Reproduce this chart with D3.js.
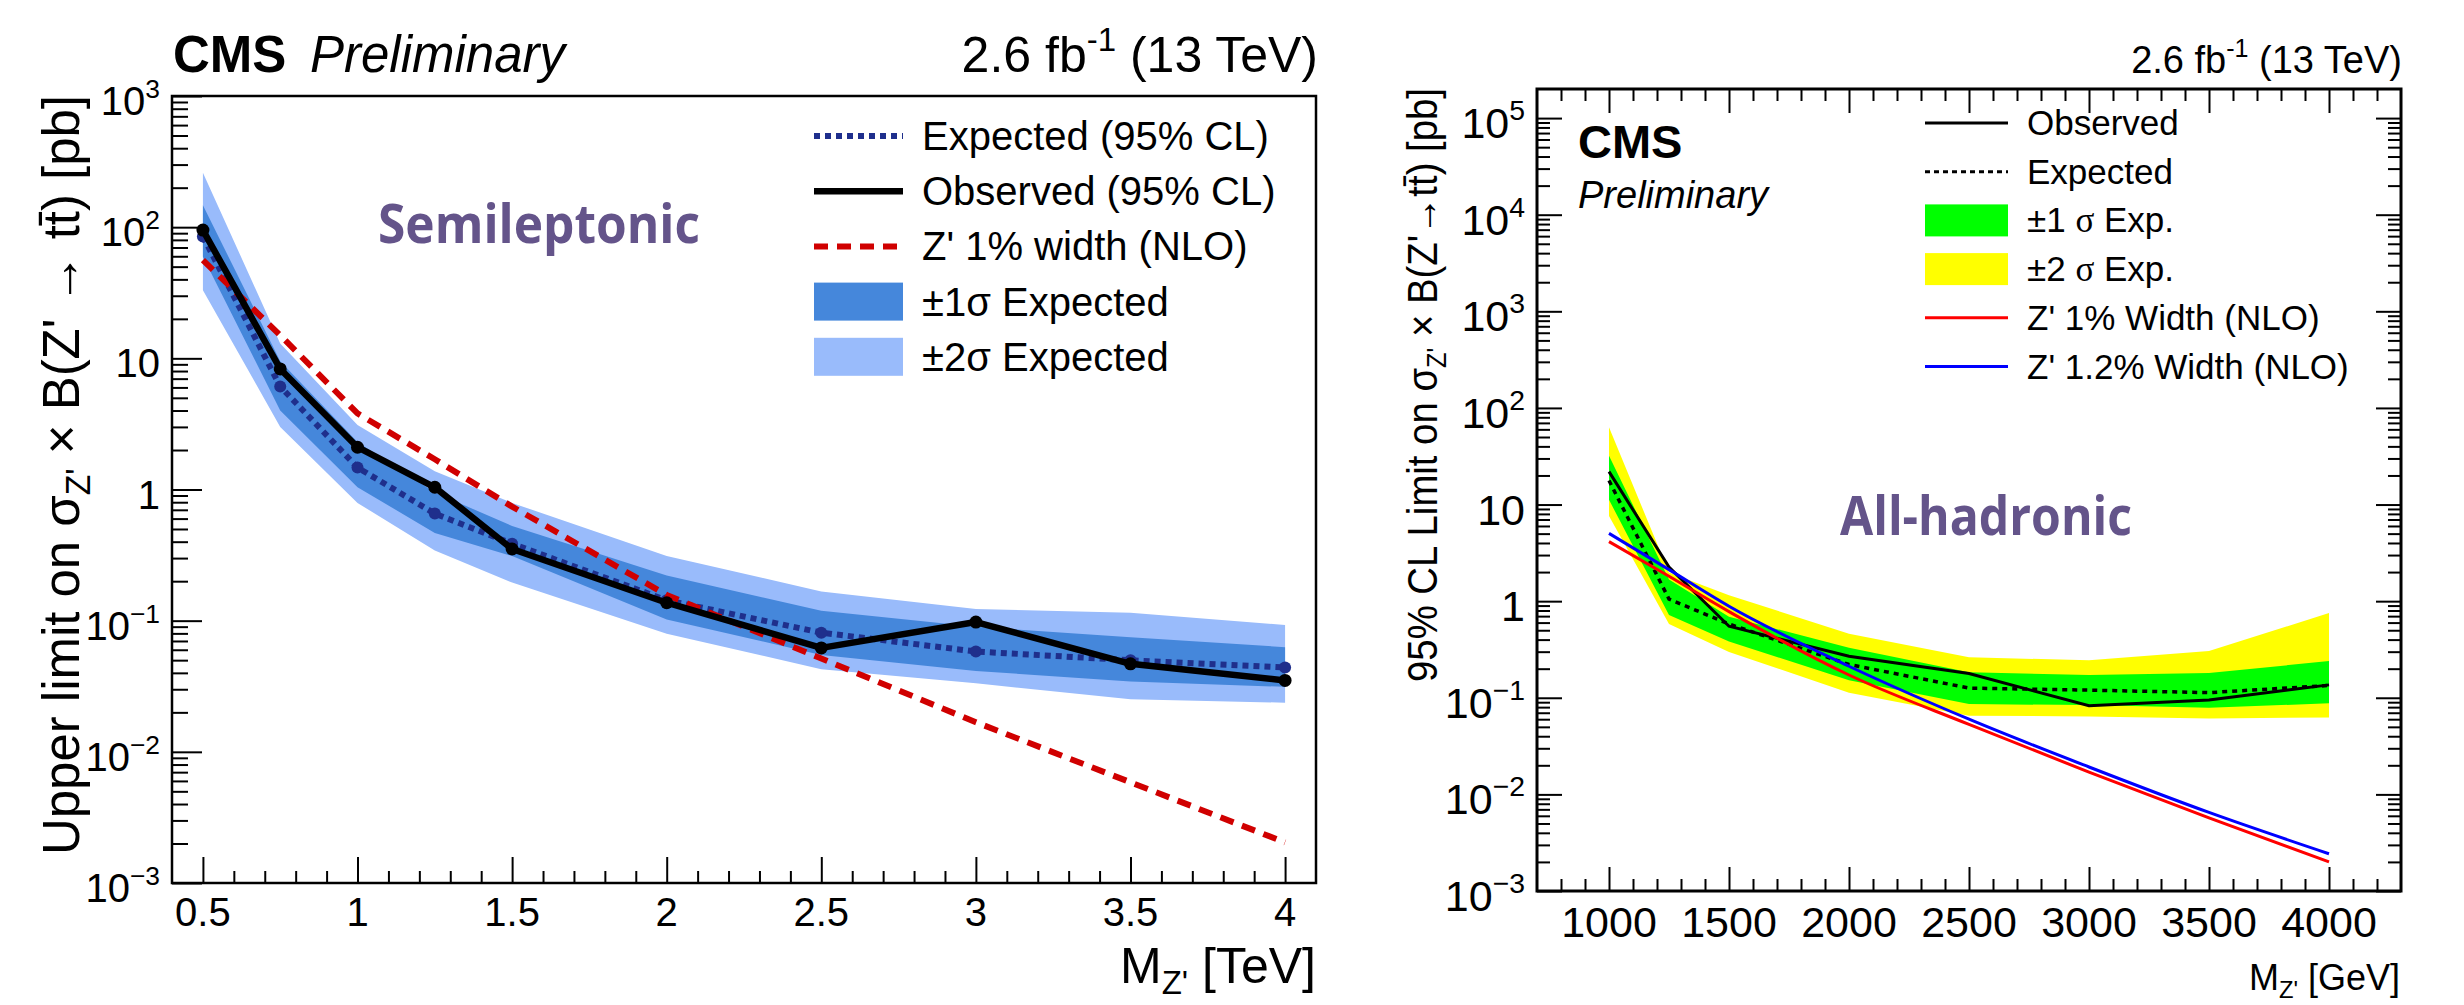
<!DOCTYPE html>
<html lang="en">
<head>
<meta charset="utf-8">
<title>Z' to ttbar limits</title>
<script src="https://d3js.org/d3.v7.min.js"></script>
<style>
  body { margin: 0; background: white; }
  text { font-family: 'Liberation Sans', Arial, sans-serif; fill: black; }
  .tag { font-family: 'Open Sans', sans-serif; font-weight: 700; fill: #64548a; }
</style>
</head>
<body>
<div id="container"></div>
<script>
// ---------------- semileptonic (left) ----------------
var slMass     = [0.5, 0.75, 1, 1.25, 1.5, 2, 2.5, 3, 3.5, 4];
var slObserved = [95, 8.3, 2.1, 1.04, 0.352, 0.137, 0.062, 0.0976, 0.0469, 0.035];
var slExpected = [85, 6.1, 1.47, 0.655, 0.386, 0.143, 0.081, 0.0582, 0.0499, 0.044];
var slExp1Up   = [147, 9.5, 2.3, 0.95, 0.527, 0.221, 0.119, 0.090, 0.0747, 0.0628];
var slExp1Dn   = [59.5, 4.0, 1.04, 0.467, 0.311, 0.102, 0.0548, 0.0414, 0.0344, 0.0313];
var slExp2Up   = [260, 13, 3.1, 1.38, 0.79, 0.311, 0.167, 0.1226, 0.115, 0.0927];
var slExp2Dn   = [33, 3.0, 0.79, 0.342, 0.195, 0.0794, 0.0427, 0.0333, 0.0252, 0.0237];
var slTheory   = [56, 15, 3.8, 1.7, 0.74, 0.157, 0.0515, 0.0168, 0.00586, 0.00204];
var slXTicks   = [0.5, 1, 1.5, 2, 2.5, 3, 3.5, 4];
var slYExp     = [-3, -2, -1, 0, 1, 2, 3];

// ---------------- all-hadronic (right) ----------------
var ahMass     = [1000, 1250, 1500, 2000, 2500, 3000, 3500, 4000];
var ahObserved = [21.9, 2.25, 0.55, 0.269, 0.178, 0.0826, 0.0946, 0.136];
var ahExpected = [17.7, 1.05, 0.58, 0.221, 0.126, 0.12, 0.113, 0.134];
var ahExp1Up   = [32, 1.68, 0.69, 0.33, 0.184, 0.172, 0.18, 0.24];
var ahExp1Dn   = [11.2, 0.72, 0.383, 0.152, 0.086, 0.084, 0.0787, 0.0877];
var ahExp2Up   = [63, 1.98, 1.15, 0.461, 0.262, 0.245, 0.305, 0.753];
var ahExp2Dn   = [7.6, 0.58, 0.298, 0.113, 0.0653, 0.064, 0.061, 0.0625];
var ahZp1      = [4.13, 1.81, 0.78, 0.172, 0.053, 0.017, 0.0057, 0.002];
var ahZp12     = [5.03, 2.12, 0.887, 0.212, 0.06, 0.0192, 0.0065, 0.00243];
var ahXTicks   = [1000, 1500, 2000, 2500, 3000, 3500, 4000];
var ahYExp     = [-3, -2, -1, 0, 1, 2, 3, 4, 5];

var W = 2464, H = 1005;
var svg = d3.select("#container").append("svg")
    .attr("width", W).attr("height", H)
    .style("background-color", "white");

// text with super/subscripts : parts = [[txt, "sup"|"sub"|null, family]]
function rich(sel, parts, fs) {
  var shift = 0;
  parts.forEach(function(p) {
    var target = p[1] === "sup" ? -0.42 * fs : p[1] === "sub" ? 0.22 * fs : 0;
    var t = sel.append("tspan").text(p[0]).attr("dy", target - shift);
    if (p[1]) t.attr("font-size", 0.66 * fs);
    if (p[2]) t.style("font-family", p[2]);
    shift = target;
  });
  return sel;
}

function powParts(e) {
  if (e === 0) return [["1"]];
  if (e === 1) return [["10"]];
  return [["10"], [e < 0 ? "\u2212" + (-e) : String(e), "sup"]];
}

function logMinors(lo, hi, max) {
  var out = [];
  for (var e = lo; e <= hi; e++)
    for (var m = 2; m <= 9; m++) if (m * Math.pow(10, e) < max) out.push(m * Math.pow(10, e));
  return out;
}

function tickAxis(g, axis, w) {
  g.call(axis);
  g.select(".domain").remove();
  g.selectAll(".tick line").attr("stroke", "black").attr("stroke-width", w);
}

// ================= LEFT PANEL =================
var xL = d3.scaleLinear().domain([0.4, 4.1]).range([172, 1316]);
var yL = d3.scaleLog().domain([1e-3, 1e3]).range([883, 96]);
var gL = svg.append("g");

svg.append("clipPath").attr("id", "clipL").append("rect")
  .attr("x", 172).attr("y", 96).attr("width", 1144).attr("height", 787);

var slIdx = d3.range(slMass.length);
var plotL = gL.append("g").attr("clip-path", "url(#clipL)");

plotL.append("path").datum(slIdx)
  .attr("fill", "#99bbfb")
  .attr("d", d3.area().x(function(i){return xL(slMass[i]);})
     .y0(function(i){return yL(slExp2Dn[i]);}).y1(function(i){return yL(slExp2Up[i]);}));
plotL.append("path").datum(slIdx)
  .attr("fill", "#4587db")
  .attr("d", d3.area().x(function(i){return xL(slMass[i]);})
     .y0(function(i){return yL(slExp1Dn[i]);}).y1(function(i){return yL(slExp1Up[i]);}));

var lineL = function(arr) {
  return d3.line().x(function(i){return xL(slMass[i]);}).y(function(i){return yL(arr[i]);});
};
plotL.append("path").datum(slIdx).attr("fill", "none")
  .attr("stroke", "#1f2f8c").attr("stroke-width", 6).attr("stroke-dasharray", "6,5")
  .attr("d", lineL(slExpected));
plotL.selectAll("circle.exp").data(slIdx).enter().append("circle")
  .attr("class", "exp").attr("r", 6).attr("fill", "#1f2f8c")
  .attr("cx", function(i){return xL(slMass[i]);}).attr("cy", function(i){return yL(slExpected[i]);});
plotL.append("path").datum(slIdx).attr("fill", "none")
  .attr("stroke", "#d00000").attr("stroke-width", 6).attr("stroke-dasharray", "14,9")
  .attr("d", lineL(slTheory));
plotL.append("path").datum(slIdx).attr("fill", "none")
  .attr("stroke", "black").attr("stroke-width", 6.5).attr("stroke-linejoin", "round")
  .attr("d", lineL(slObserved));
plotL.selectAll("circle.obs").data(slIdx).enter().append("circle")
  .attr("class", "obs").attr("r", 6.5).attr("fill", "black")
  .attr("cx", function(i){return xL(slMass[i]);}).attr("cy", function(i){return yL(slObserved[i]);});

// ticks
var slXMinor = d3.range(5, 41).map(function(v){return v / 10;})
  .filter(function(v){ return slXTicks.indexOf(v) < 0; });
tickAxis(gL.append("g").attr("transform", "translate(0,883)"),
  d3.axisBottom(xL).tickValues(slXMinor).tickSize(-12).tickFormat(""), 2);
tickAxis(gL.append("g").attr("transform", "translate(0,883)"),
  d3.axisBottom(xL).tickValues(slXTicks).tickSize(-26).tickFormat(""), 2);
tickAxis(gL.append("g").attr("transform", "translate(172,0)"),
  d3.axisLeft(yL).tickValues(logMinors(-3, 2, 1e3)).tickSize(-16).tickFormat(""), 2);
tickAxis(gL.append("g").attr("transform", "translate(172,0)"),
  d3.axisLeft(yL).tickValues(slYExp.map(function(e){return Math.pow(10, e);})).tickSize(-30).tickFormat(""), 2);

gL.append("rect").attr("x", 172).attr("y", 96).attr("width", 1144).attr("height", 787)
  .attr("fill", "none").attr("stroke", "black").attr("stroke-width", 2.5);

slXTicks.forEach(function(v) {
  gL.append("text").attr("x", xL(v)).attr("y", 926).attr("text-anchor", "middle")
    .attr("font-size", 40).text(v);
});
slYExp.forEach(function(e) {
  rich(gL.append("text").attr("x", 160).attr("y", yL(Math.pow(10, e)) + 19)
    .attr("text-anchor", "end").attr("font-size", 40), powParts(e), 40);
});

rich(gL.append("text").attr("x", 1316).attr("y", 983).attr("text-anchor", "end").attr("font-size", 50),
  [["M"], ["Z'", "sub"], [" [TeV]"]], 50);

rich(gL.append("text").attr("transform", "translate(79,475) rotate(-90)")
    .attr("text-anchor", "middle").attr("font-size", 52)
    .attr("textLength", 760).attr("lengthAdjust", "spacingAndGlyphs"),
  [["Upper limit on \u03c3"], ["Z'", "sub"], [" \u00d7 B(Z' \u2192 tt\u0304) [pb]"]], 52);

gL.append("text").attr("x", 173).attr("y", 72).attr("font-size", 51)
  .attr("font-weight", "bold").text("CMS");
gL.append("text").attr("x", 310).attr("y", 72).attr("font-size", 51)
  .attr("font-style", "italic").text("Preliminary");
rich(gL.append("text").attr("x", 1318).attr("y", 72).attr("text-anchor", "end").attr("font-size", 50),
  [["2.6 fb"], ["-1", "sup"], [" (13 TeV)"]], 50);

gL.append("text").attr("class", "tag").attr("x", 378).attr("y", 243)
  .attr("font-size", 54).attr("textLength", 322).attr("lengthAdjust", "spacingAndGlyphs")
  .text("Semileptonic");

// legend
var legL = [
  {label: "Expected (95% CL)", kind: "line", color: "#1f2f8c", w: 6, dash: "6,5"},
  {label: "Observed (95% CL)", kind: "line", color: "black", w: 6.5, dash: null},
  {label: "Z' 1% width (NLO)", kind: "line", color: "#d00000", w: 6, dash: "14,9"},
  {label: "\u00b11\u03c3 Expected", kind: "box", color: "#4587db"},
  {label: "\u00b12\u03c3 Expected", kind: "box", color: "#99bbfb"}
];
legL.forEach(function(d, i) {
  var cy = 136 + i * 55.2;
  if (d.kind === "line") {
    gL.append("line").attr("x1", 814).attr("x2", 903).attr("y1", cy).attr("y2", cy)
      .attr("stroke", d.color).attr("stroke-width", d.w).attr("stroke-dasharray", d.dash);
  } else {
    gL.append("rect").attr("x", 814).attr("y", cy - 19).attr("width", 89).attr("height", 38)
      .attr("fill", d.color);
  }
  gL.append("text").attr("x", 922).attr("y", cy + 14).attr("font-size", 40).text(d.label);
});

// ================= RIGHT PANEL =================
var xR = d3.scaleLinear().domain([700, 4300]).range([1537, 2401]);
var yR = d3.scaleLog().domain([1e-3, 2e5]).range([891, 89]);
var gR = svg.append("g");

svg.append("clipPath").attr("id", "clipR").append("rect")
  .attr("x", 1537).attr("y", 89).attr("width", 864).attr("height", 802);

var ahIdx = d3.range(ahMass.length);
var plotR = gR.append("g").attr("clip-path", "url(#clipR)");

plotR.append("path").datum(ahIdx).attr("fill", "#ffff00")
  .attr("d", d3.area().x(function(i){return xR(ahMass[i]);})
     .y0(function(i){return yR(ahExp2Dn[i]);}).y1(function(i){return yR(ahExp2Up[i]);}));
plotR.append("path").datum(ahIdx).attr("fill", "#00ff00")
  .attr("d", d3.area().x(function(i){return xR(ahMass[i]);})
     .y0(function(i){return yR(ahExp1Dn[i]);}).y1(function(i){return yR(ahExp1Up[i]);}));

var lineR = function(arr) {
  return d3.line().x(function(i){return xR(ahMass[i]);}).y(function(i){return yR(arr[i]);});
};
plotR.append("path").datum(ahIdx).attr("fill", "none")
  .attr("stroke", "black").attr("stroke-width", 3.5).attr("stroke-dasharray", "5,5")
  .attr("d", lineR(ahExpected));
plotR.append("path").datum(ahIdx).attr("fill", "none")
  .attr("stroke", "black").attr("stroke-width", 3)
  .attr("d", lineR(ahObserved));
plotR.append("path").datum(ahIdx).attr("fill", "none")
  .attr("stroke", "#ff0000").attr("stroke-width", 3)
  .attr("d", lineR(ahZp1).curve(d3.curveMonotoneX));
plotR.append("path").datum(ahIdx).attr("fill", "none")
  .attr("stroke", "#0000ff").attr("stroke-width", 3)
  .attr("d", lineR(ahZp12).curve(d3.curveMonotoneX));

var ahXMinor = d3.range(8, 43).map(function(v){return v * 100;})
  .filter(function(v){ return ahXTicks.indexOf(v) < 0; });
var ahYMajor = ahYExp.map(function(e){return Math.pow(10, e);});
var ahYMinor = logMinors(-3, 5, 2e5);
[[891, d3.axisBottom], [89, d3.axisTop]].forEach(function(s) {
  tickAxis(gR.append("g").attr("transform", "translate(0," + s[0] + ")"),
    s[1](xR).tickValues(ahXMinor).tickSize(-12).tickFormat(""), 2);
  tickAxis(gR.append("g").attr("transform", "translate(0," + s[0] + ")"),
    s[1](xR).tickValues(ahXTicks).tickSize(-24).tickFormat(""), 2);
});
[[1537, d3.axisLeft], [2401, d3.axisRight]].forEach(function(s) {
  tickAxis(gR.append("g").attr("transform", "translate(" + s[0] + ",0)"),
    s[1](yR).tickValues(ahYMinor).tickSize(-13).tickFormat(""), 2);
  tickAxis(gR.append("g").attr("transform", "translate(" + s[0] + ",0)"),
    s[1](yR).tickValues(ahYMajor).tickSize(-25).tickFormat(""), 2);
});

gR.append("rect").attr("x", 1537).attr("y", 89).attr("width", 864).attr("height", 802)
  .attr("fill", "none").attr("stroke", "black").attr("stroke-width", 3);

ahXTicks.forEach(function(v) {
  gR.append("text").attr("x", xR(v)).attr("y", 937).attr("text-anchor", "middle")
    .attr("font-size", 43).text(v);
});
ahYExp.forEach(function(e) {
  rich(gR.append("text").attr("x", 1525).attr("y", yR(Math.pow(10, e)) + 20)
    .attr("text-anchor", "end").attr("font-size", 43), powParts(e), 43);
});

rich(gR.append("text").attr("x", 2400).attr("y", 990).attr("text-anchor", "end").attr("font-size", 36),
  [["M"], ["Z'", "sub"], [" [GeV]"]], 36);

rich(gR.append("text").attr("transform", "translate(1437,385) rotate(-90)")
    .attr("text-anchor", "middle").attr("font-size", 42)
    .attr("textLength", 594).attr("lengthAdjust", "spacingAndGlyphs"),
  [["95% CL Limit on \u03c3"], ["Z'", "sub"], [" \u00d7 B(Z'\u2192tt\u0304) [pb]"]], 42);

rich(gR.append("text").attr("x", 2402).attr("y", 73).attr("text-anchor", "end").attr("font-size", 38),
  [["2.6 fb"], ["-1", "sup"], [" (13 TeV)"]], 38);
gR.append("text").attr("x", 1578).attr("y", 158).attr("font-size", 47)
  .attr("font-weight", "bold").text("CMS");
gR.append("text").attr("x", 1578).attr("y", 208).attr("font-size", 38)
  .attr("font-style", "italic").text("Preliminary");

gR.append("text").attr("class", "tag").attr("x", 1840).attr("y", 535)
  .attr("font-size", 54).attr("textLength", 292).attr("lengthAdjust", "spacingAndGlyphs")
  .text("All-hadronic");

var legR = [
  {label: [["Observed"]], kind: "line", color: "black", dash: null},
  {label: [["Expected"]], kind: "line", color: "black", dash: "5,4"},
  {label: [["\u00b11 "], ["\u03c3", null, "'Liberation Serif'"], [" Exp."]], kind: "box", color: "#00ff00"},
  {label: [["\u00b12 "], ["\u03c3", null, "'Liberation Serif'"], [" Exp."]], kind: "box", color: "#ffff00"},
  {label: [["Z' 1% Width (NLO)"]], kind: "line", color: "#ff0000", dash: null},
  {label: [["Z' 1.2% Width (NLO)"]], kind: "line", color: "#0000ff", dash: null}
];
legR.forEach(function(d, i) {
  var cy = 123 + i * 48.7;
  if (d.kind === "line") {
    gR.append("line").attr("x1", 1925).attr("x2", 2008).attr("y1", cy).attr("y2", cy)
      .attr("stroke", d.color).attr("stroke-width", 3).attr("stroke-dasharray", d.dash);
  } else {
    gR.append("rect").attr("x", 1925).attr("y", cy - 16).attr("width", 83).attr("height", 32)
      .attr("fill", d.color);
  }
  rich(gR.append("text").attr("x", 2027).attr("y", cy + 12).attr("font-size", 35), d.label, 35);
});
</script>
</body>
</html>
